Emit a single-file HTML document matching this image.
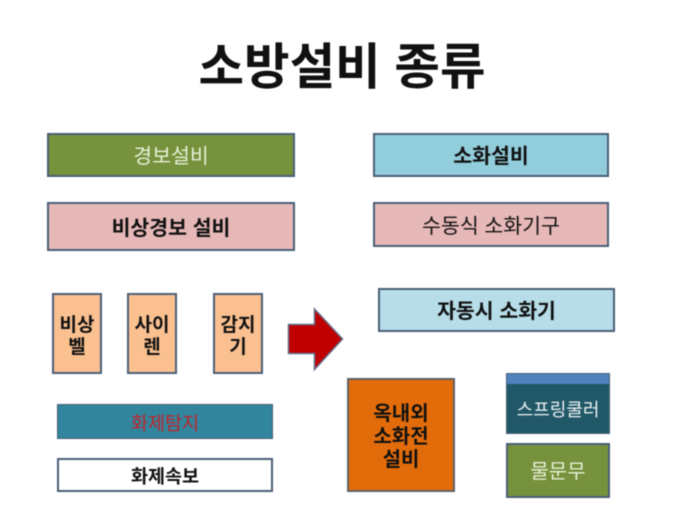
<!DOCTYPE html>
<html lang="ko"><head><meta charset="utf-8">
<style>
html,body{margin:0;padding:0;background:#fff}
#p{position:relative;width:683px;height:512px;overflow:hidden;background:#fff;font-family:"Liberation Sans","Noto Sans CJK KR",sans-serif;filter:blur(.5px)}
.b{position:absolute;box-sizing:border-box;border:2px solid #4a5f78;display:flex;align-items:center;justify-content:center;text-align:center;font-size:20.5px;line-height:23px;color:#111;white-space:nowrap;padding-top:3px}
.k{font-weight:700}
.s{font-size:19px;line-height:22px;padding-top:7px}
</style></head><body><div id="p">
<div style="position:absolute;left:0;top:36px;width:683px;text-align:center;font-size:49.5px;line-height:64px;font-weight:700;color:#111;padding-left:1px;box-sizing:border-box">소방설비 종류</div>

<div class="b" style="left:47px;top:133px;width:248px;height:44px;background:#76923c;color:#e8efd8">경보설비</div>
<div class="b k" style="left:47px;top:202px;width:248px;height:49px;background:#e6b8b7">비상경보 설비</div>
<div class="b k s" style="left:52px;top:293px;width:50px;height:81px;background:#fac090">비상<br>벨</div>
<div class="b k s" style="left:127px;top:293px;width:50px;height:81px;background:#fac090">사이<br>렌</div>
<div class="b k s" style="left:213px;top:293px;width:50px;height:81px;background:#fac090">감지<br>기</div>
<div class="b" style="left:57px;top:404px;width:216px;height:35px;background:#31859c;color:#c0232c;border-width:1px;font-size:18.500px">화제탐지</div>
<div class="b k" style="left:57px;top:458px;width:216px;height:34px;background:#fff;font-size:18.500px">화제속보</div>

<svg style="position:absolute;left:0;top:0" width="683" height="512"><polygon points="288.500,324.500 314.500,324.500 314.500,309 342.500,339 314.500,369.500 314.500,353.500 288.500,353.500" fill="#c00000" stroke="#5f6f8c" stroke-width="1.500"/></svg>

<div class="b k" style="left:373px;top:133px;width:236px;height:44px;background:#92cddc">소화설비</div>
<div class="b" style="left:373px;top:202px;width:236px;height:45px;background:#e6b8b7">수동식 소화기구</div>
<div class="b k" style="left:378px;top:288px;width:237px;height:44px;background:#b7dde8">자동시 소화기</div>
<div class="b k" style="left:347px;top:378px;width:108px;height:114px;background:#e36c0a;font-size:20px;border-color:#5f6168;padding-top:5px">옥내외<br>소화전<br>설비</div>
<div class="b" style="left:506px;top:373px;width:104px;height:61px;background:#215868;color:#eef3f5;padding-top:14px;border-width:1px;font-size:18px">스프링쿨러</div>
<div style="position:absolute;left:507px;top:374px;width:102px;height:10px;background:#4f81bd"></div>
<div class="b" style="left:506px;top:443px;width:104px;height:55px;background:#76923c;color:#e8efd8;font-size:20px">물문무</div>
</div></body></html>
